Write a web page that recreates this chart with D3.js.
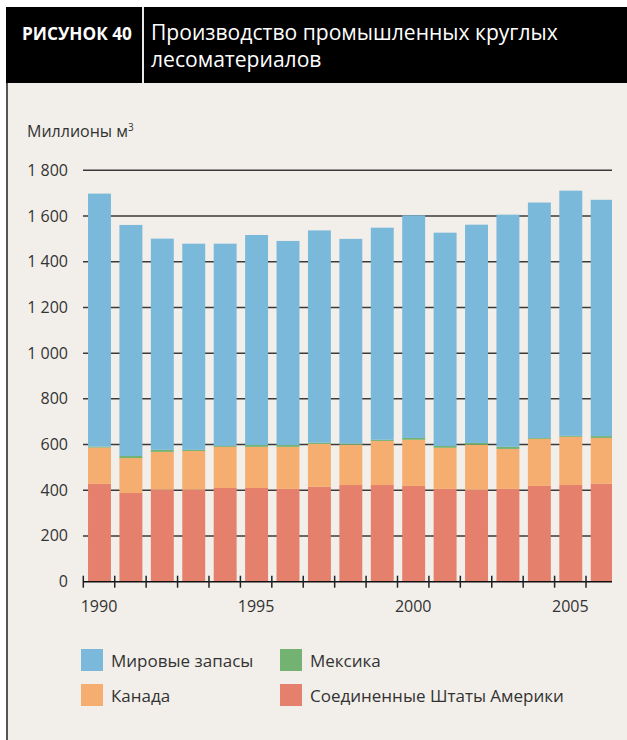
<!DOCTYPE html>
<html><head><meta charset="utf-8">
<script src="https://cdn.jsdelivr.net/npm/d3@7"></script>
<style>html,body{margin:0;padding:0;background:#fff;}svg{display:block;}</style>
</head><body>
<script>
const years = [1990,1991,1992,1993,1994,1995,1996,1997,1998,1999,2000,2001,2002,2003,2004,2005,2006];
const usa    = [428,388,403,403,410,410,406,415,423,423,419,406,402,406,419,423,428];
const canada = [159,153,165,169,180,180,184,188,176,193,202,180,197,175,206,211,201];
const mexico = [4,9,9,5,4,8,8,5,5,5,8,8,8,9,4,4,8];
const world  = [1107,1011,924,902,885,919,893,929,896,928,974,933,955,1016,1030,1073,1034];
const yTicks = [0,200,400,600,800,1000,1200,1400,1600,1800];
const yTickLabels = ["0","200","400","600","800","1 000","1 200","1 400","1 600","1 800"];
const xLabelYears = [1990,1995,2000,2005];
const seriesNames = ["Соединенные Штаты Америки","Канада","Мексика","Мировые запасы"];
const seriesKeys = ["usa","canada","mexico","world"];
const colors = {usa:"#e5806c", canada:"#f5ae70", mexico:"#73b270", world:"#7ab9d9"};

const W=627,H=740;
const svg=d3.select("body").append("svg").attr("width",W).attr("height",H);
const font="'Open Sans', 'Noto Sans', sans-serif";
const txt="#333";

// backgrounds
svg.append("rect").attr("x",0).attr("y",0).attr("width",W).attr("height",H).attr("fill","#fff");
svg.append("rect").attr("x",6).attr("y",83).attr("width",W-6).attr("height",H-83).attr("fill","#f2efea");
svg.append("rect").attr("x",6).attr("y",7).attr("width",W-6).attr("height",76).attr("fill","#000");
svg.append("line").attr("x1",7).attr("x2",7).attr("y1",83).attr("y2",H).attr("stroke","#555").attr("stroke-width",2);
svg.append("line").attr("x1",143).attr("x2",143).attr("y1",7).attr("y2",83).attr("stroke","#e8e8e8").attr("stroke-width",2);

function fit(sel, target){
  const n=sel.node(); const w=n.getComputedTextLength();
  const fs=parseFloat(sel.attr("font-size"));
  if(w>0) sel.attr("font-size", (fs*target/w).toFixed(2));
}
fit(svg.append("text").attr("x",22).attr("y",40).attr("fill","#fff").attr("font-family",font)
  .attr("font-weight","bold").attr("font-size",16).text("РИСУНОК 40"),110);
fit(svg.append("text").attr("x",151).attr("y",40).attr("fill","#fff").attr("font-family",font)
  .attr("font-size",20).text("Производство промышленных круглых"),407);
svg.append("text").attr("x",151).attr("y",67).attr("fill","#fff").attr("font-family",font)
  .attr("font-size",20).text("лесоматериалов").attr("font-size",
    svg.selectAll("text").filter((d,i)=>i===1).attr("font-size"));

const yl=svg.append("text").attr("x",27).attr("y",137).attr("fill",txt).attr("font-family",font).attr("font-size",16);
yl.append("tspan").text("Миллионы м");
yl.append("tspan").attr("font-size",10).attr("dy",-6).text("3");

// scales
const x=d3.scaleBand().domain(years).range([83.3,83.3+31.42*years.length]).padding(0);
const y=d3.scaleLinear().domain([0,1800]).range([581.7,170.3]);
const plotRight=612;

// gridlines
svg.append("g").selectAll("line").data(yTicks.filter(d=>d>0)).join("line")
  .attr("x1",83).attr("x2",plotRight).attr("y1",d=>y(d)).attr("y2",d=>y(d))
  .attr("stroke","#3a3a3a").attr("stroke-width",1.5);

// y labels
svg.append("g").selectAll("text").data(yTicks).join("text")
  .attr("x",68).attr("y",d=>y(d)+5.5).attr("text-anchor","end")
  .attr("fill",txt).attr("font-family",font).attr("font-size",16)
  .text((d,i)=>yTickLabels[i]);

// stacked bars
const rows=years.map((yr,i)=>({year:yr,usa:usa[i],canada:canada[i],mexico:mexico[i],world:world[i]}));
const stack=d3.stack().keys(seriesKeys)(rows);
svg.append("clipPath").attr("id","clip").append("rect")
  .attr("x",0).attr("y",0).attr("width",plotRight).attr("height",H);
const bw=x.bandwidth()*0.73, bo=x.bandwidth()*0.15;
svg.append("g").attr("clip-path","url(#clip)").selectAll("g").data(stack).join("g")
  .attr("fill",d=>colors[d.key])
  .selectAll("rect").data(d=>d).join("rect")
  .attr("x",d=>x(d.data.year)+bo).attr("width",bw)
  .attr("y",d=>y(d[1])).attr("height",d=>y(d[0])-y(d[1]));

// x axis
const ax=svg.append("g");
ax.append("line").attr("x1",83).attr("x2",plotRight).attr("y1",y(0)).attr("y2",y(0))
  .attr("stroke","#111").attr("stroke-width",1.5);
ax.selectAll("line.t").data(years).join("line").attr("class","t")
  .attr("x1",d=>x(d)).attr("x2",d=>x(d)).attr("y1",y(0)-6).attr("y2",y(0)+6)
  .attr("stroke","#222").attr("stroke-width",1.5);
ax.selectAll("text").data(xLabelYears).join("text")
  .attr("x",d=>x(d)+x.bandwidth()/2).attr("y",612).attr("text-anchor","middle")
  .attr("fill",txt).attr("font-family",font).attr("font-size",16).text(d=>d);

// legend
const legendOrder=[["world",81,649],["mexico",280,649],["canada",81,684],["usa",280,684]];
const lg=svg.append("g");
legendOrder.forEach(([k,lx,ly])=>{
  lg.append("rect").attr("x",lx).attr("y",ly).attr("width",22).attr("height",22).attr("fill",colors[k]);
  lg.append("text").attr("x",lx+30).attr("y",ly+18).attr("fill",txt).attr("font-family",font)
    .attr("font-size",17).text(seriesNames[seriesKeys.indexOf(k)]);
});
</script>
</body></html>
